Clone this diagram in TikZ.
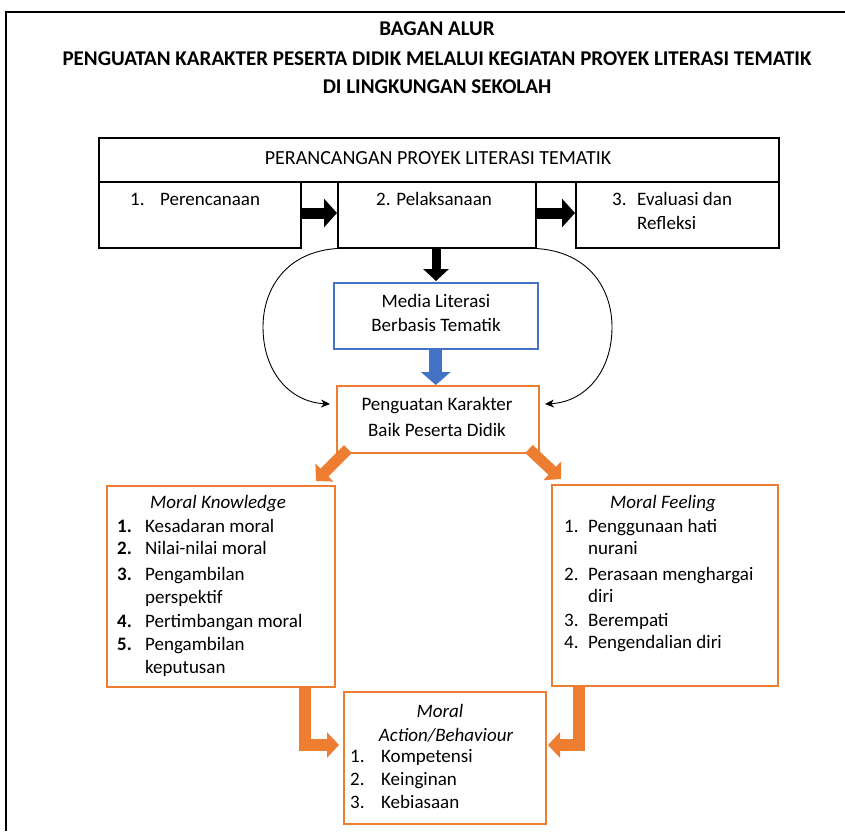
\documentclass[tikz,border=0pt]{standalone}
\usepackage{fontspec}
\setmainfont{Carlito}
\usetikzlibrary{arrows.meta}
\definecolor{orng}{HTML}{ED7D31}
\definecolor{blu}{HTML}{4472C4}
\begin{document}
\begin{tikzpicture}[x=1pt,y=-1pt,
  font=\fontsize{19}{23}\selectfont,
  box/.style={draw, line width=1.5pt, anchor=north west, inner sep=0pt},
  obox/.style={box, draw=orng},
  txt/.style={inner sep=0pt, anchor=mid, yshift=-3.5pt},
  ltxt/.style={inner sep=0pt, anchor=mid west, yshift=-3.5pt},
  ttl/.style={txt, font=\fontsize{21}{25}\selectfont\bfseries},
  bnum/.style={ltxt, font=\fontsize{19}{23}\selectfont\bfseries},
  itl/.style={txt, font=\fontsize{19}{23}\selectfont\itshape},
  blk/.style={line width=11pt, -{Triangle[length=13pt,width=28pt]}},
  oarr/.style={draw=orng, line width=11pt, -{Triangle[length=12pt,width=25pt]}},
  carr/.style={line width=0.9pt, -{Stealth[length=9pt,width=8pt]}}]
\useasboundingbox (0,0) rectangle (845,831);
\draw[line width=1.3pt] (6,831) -- (6,12) -- (845,12);
% titles
\node[ttl] (t1) at (437,30) {BAGAN ALUR};
\node[ttl] (t2) at (437,60) {PENGUATAN KARAKTER PESERTA DIDIK MELALUI KEGIATAN PROYEK LITERASI TEMATIK};
\node[ttl] (t3) at (437,88) {DI LINGKUNGAN SEKOLAH};
% boxes
\node[box, minimum width=680pt, minimum height=44pt] (top) at (98,137) {};
\node[box, minimum width=202pt, minimum height=66pt] (b1) at (98,181) {};
\node[box, minimum width=198pt, minimum height=66pt] (b2) at (337,181) {};
\node[box, minimum width=203pt, minimum height=66pt] (b3) at (575,181) {};
\node[box, draw=blu, minimum width=204pt, minimum height=66pt] (media) at (333,282) {};
\node[obox, minimum width=202pt, minimum height=67pt] (peng) at (336,385) {};
\node[obox, minimum width=228pt, minimum height=201pt] (mk) at (106,485) {};
\node[obox, minimum width=226pt, minimum height=201pt] (mf) at (551,484) {};
\node[obox, minimum width=202pt, minimum height=132pt] (ma) at (343,691) {};
% texts
\node[txt, font=\fontsize{20}{24}\selectfont] (toptxt) at (438,159) {PERANCANGAN PROYEK LITERASI TEMATIK};
\node[ltxt] (n1) at (130,200) {1.};
\node[ltxt] (b1t) at (160,200) {Perencanaan};
\node[txt] (b2t) at (434,200) {2. Pelaksanaan};
\node[ltxt] (n3) at (612,200) {3.};
\node[ltxt] (b3a) at (637,200) {Evaluasi dan};
\node[ltxt] (b3b) at (637,224) {Refleksi};
\node[txt] (m1) at (436,302) {Media Literasi};
\node[txt] (m2) at (436,326) {Berbasis Tematik};
\node[txt] (p1) at (437,405) {Penguatan Karakter};
\node[txt] (p2) at (437,431) {Baik Peserta Didik};
% moral knowledge
\node[itl] (mkt) at (218,503) {Moral Knowledge};
\node[bnum] (mkn1) at (117,527) {1.};
\node[bnum] (mkn2) at (117,549) {2.};
\node[bnum] (mkn3) at (117,575) {3.};
\node[bnum] (mkn4) at (117,622) {4.};
\node[bnum] (mkn5) at (117,645) {5.};
\node[ltxt] (mk1) at (145,527) {Kesadaran moral};
\node[ltxt] (mk2) at (145,549) {Nilai-nilai moral};
\node[ltxt] (mk3) at (145,575) {Pengambilan};
\node[ltxt] (mk3b) at (145,598) {perspektif};
\node[ltxt] (mk4) at (145,622) {Pertimbangan moral};
\node[ltxt] (mk5) at (145,645) {Pengambilan};
\node[ltxt] (mk5b) at (145,668) {keputusan};
% moral feeling
\node[itl] (mft) at (663,503) {Moral Feeling};
\node[ltxt] (mfn1) at (564,527) {1.};
\node[ltxt] (mfn2) at (564,575) {2.};
\node[ltxt] (mfn3) at (564,621) {3.};
\node[ltxt] (mfn4) at (564,643) {4.};
\node[ltxt] (mf1) at (588,527) {Penggunaan hati};
\node[ltxt] (mf1b) at (588,549) {nurani};
\node[ltxt] (mf2) at (588,575) {Perasaan menghargai};
\node[ltxt] (mf2b) at (588,597) {diri};
\node[ltxt] (mf3) at (588,621) {Berempati};
\node[ltxt] (mf4) at (588,643) {Pengendalian diri};
% moral action
\node[itl] (mat1) at (440,712) {Moral};
\node[itl] (mat2) at (446,736) {Action/Behaviour};
\node[ltxt] (man1) at (350,757) {1.};
\node[ltxt] (man2) at (350,780) {2.};
\node[ltxt] (man3) at (350,803) {3.};
\node[ltxt] (ma1) at (381,757) {Kompetensi};
\node[ltxt] (ma2) at (381,780) {Keinginan};
\node[ltxt] (ma3) at (381,803) {Kebiasaan};
% black block arrows
\draw[blk] (b1.east |- 0,213) -- (b2.west |- 0,213);
\draw[blk] (b2.east |- 0,213) -- (b3.west |- 0,213);
\draw[line width=9pt, -{Triangle[length=12pt,width=25pt]}] (436,247) -- (436,281);
\draw[draw=blu, line width=13pt, -{Triangle[length=13pt,width=29pt]}] (media.south) -- (media.south |- peng.north);
% curved arrows
\draw[carr] (b2.south west) .. controls (285,252) and (263,290) .. (263,327) .. controls (263,372) and (290,402) .. (330,404);
\draw[carr] (b2.south east) .. controls (590,252) and (612,290) .. (612,327) .. controls (612,372) and (585,402) .. (545,404);
% orange diagonal arrows
\coordinate (dl0) at (348,449);
\coordinate (dl1) at (316,481);
\coordinate (dr0) at (529,449);
\coordinate (dr1) at (561,479);
\draw[oarr] (dl0) -- (dl1);
\draw[oarr] (dr0) -- (dr1);
% orange elbow arrows
\coordinate (el0) at (305,686);
\coordinate (el1) at (305,745);
\coordinate (el2) at (339,745);
\coordinate (er0) at (579,685);
\coordinate (er1) at (579,745);
\coordinate (er2) at (548,745);
\draw[oarr, line width=12pt, line join=miter] (el0) -- (el1) -- (el2);
\draw[oarr, line width=12pt, line join=miter] (er0) -- (er1) -- (er2);
\end{tikzpicture}
\end{document}
